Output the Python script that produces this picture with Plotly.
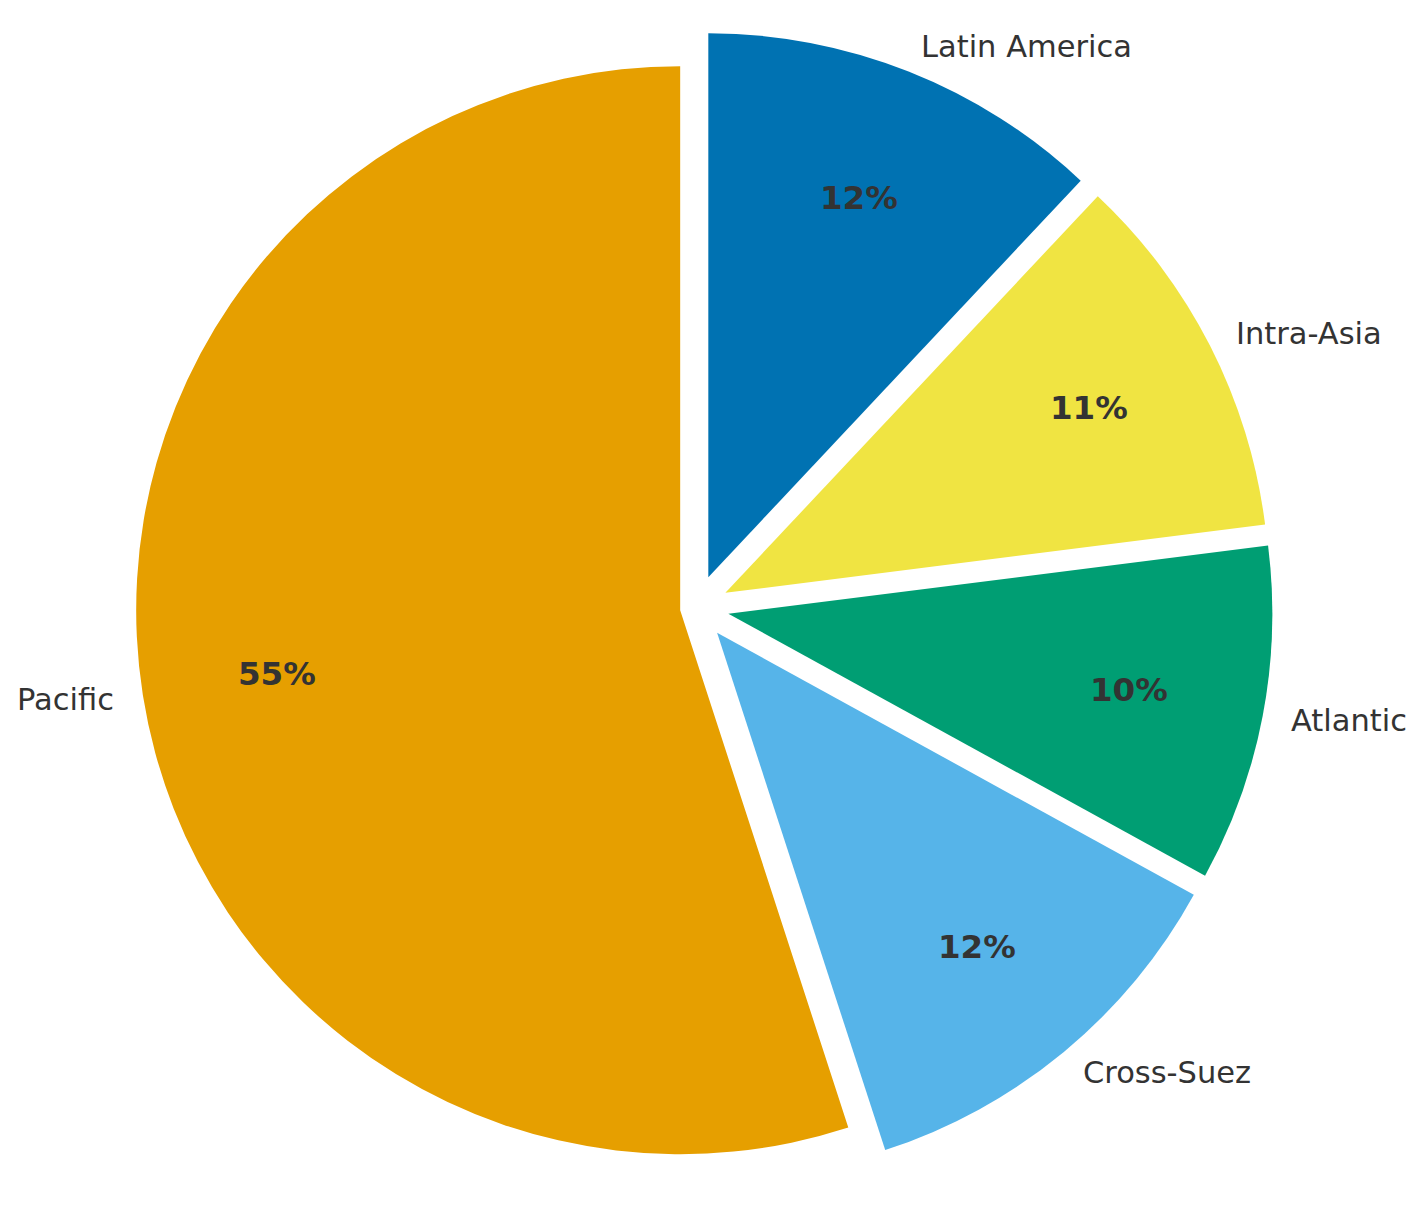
import math
import plotly.graph_objects as go

# Data
labels = ["Latin America", "Intra-Asia", "Atlantic", "Cross-Suez", "Pacific"]
values = [12, 11, 10, 12, 55]
colors = ["#0072B2", "#F0E442", "#009E73", "#56B4E9", "#E69F00"]
pulls = [0.06, 0.06, 0.06, 0.06, 0.03]

W, H = 1425, 1206
OFF = 8  # page body margin
cx_px, cy_px, r_px = 696.3 - OFF, 607.6 - OFF, 544.0
max_pull = max(pulls)
box = 2 * r_px * (1 + max_pull)
dx = box / W / 2
dy = box / H / 2
xc = cx_px / W
yc = 1 - cy_px / H

fig = go.Figure(go.Pie(
    labels=labels, values=values, sort=False, direction="clockwise", rotation=0,
    marker=dict(colors=colors, line=dict(width=0)),
    pull=pulls, textinfo="none", hoverinfo="skip", showlegend=False,
    domain=dict(x=[xc - dx, xc + dx], y=[yc - dy, yc + dy]),
))

total = sum(values)
start = 90.0
annotations = []
for lab, v, p in zip(labels, values, pulls):
    span = 360.0 * v / total
    mid = start - span / 2
    start -= span
    a = math.radians(mid)
    ox = cx_px + p * r_px * math.cos(a)
    oy = cy_px - p * r_px * math.sin(a)
    # percent label
    px = ox + 0.75 * r_px * math.cos(a)
    py = oy - 0.75 * r_px * math.sin(a)
    annotations.append(dict(
        x=px / W, y=1 - py / H, xref="paper", yref="paper",
        text="<b>%d%%</b>" % round(100 * v / total), showarrow=False,
        xanchor="center", yanchor="middle",
        font=dict(family="DejaVu Sans", size=32.5, color="#333333")))
    # outer label
    lx = ox + 1.05 * r_px * math.cos(a)
    ly = oy - 1.05 * r_px * math.sin(a)
    annotations.append(dict(
        x=lx / W, y=1 - ly / H, xref="paper", yref="paper",
        text=lab, showarrow=False,
        xanchor="left" if math.cos(a) >= 0 else "right", yanchor="middle",
        font=dict(family="DejaVu Sans", size=30.5, color="#333333")))

fig.update_layout(
    width=W, height=H, margin=dict(l=0, r=0, t=0, b=0),
    paper_bgcolor="white", plot_bgcolor="white",
    annotations=annotations,
)

fig.write_html("out.html")
